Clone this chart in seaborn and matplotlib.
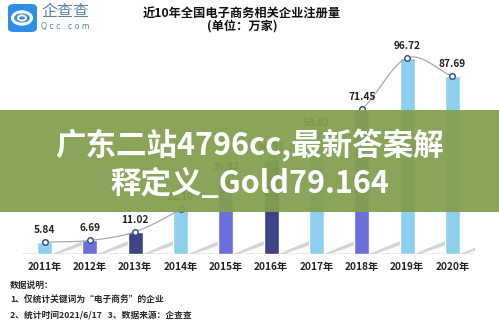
import numpy as np
import pandas as pd
import matplotlib
matplotlib.use("Agg")
import matplotlib.pyplot as plt
from matplotlib.patches import FancyBboxPatch, Rectangle, Polygon, Circle
import seaborn as sns

# data
years = ["2011年", "2012年", "2013年", "2014年", "2015年", "2016年", "2017年", "2018年", "2019年", "2020年"]
registrations = [5.84, 6.69, 11.02, 22.10, 36.82, 46.91, 58.82, 71.45, 96.72, 87.69]
bar_colors = ["#8ed0f0", "#6a6fd9", "#3b4487", "#8ed0f0", "#6a6fd9", "#3b4487",
              "#8ed0f0", "#6a6fd9", "#8ed0f0", "#8ed0f0"]
title_lines = ["近10年全国电子商务相关企业注册量", "(单位：万家)"]
notes = ["数据说明：", "1、仅统计关键词为“电子商务”的企业", "2、统计时间2021/6/17   3、数据来源：企查查"]
banner_lines = ["广东二站4796cc,最新答案解", "释定义_Gold79.164"]

sns.set_theme(style="white")
plt.rcParams["font.family"] = ["Noto Sans CJK SC", "DejaVu Sans"]

W, H = 499, 323
fig = plt.figure(figsize=(W / 100, H / 100), dpi=100)
fig.patch.set_facecolor("white")

def fx(px):
    return px / W

def fy(py):
    return 1 - py / H

ax = fig.add_axes([fx(22), fy(254), 453 / W, 222.9 / H])
df = pd.DataFrame({"year": years, "value": registrations})
sns.barplot(data=df, x="year", y="value", hue="year", palette=bar_colors,
            legend=False, width=0.33, ax=ax, saturation=1)
ax.set_xlim(-0.5, 9.5)
ax.set_ylim(0, 110)
ax.set_xlabel("")
ax.set_ylabel("")
ax.set_yticks([])
for s in ax.spines.values():
    s.set_visible(False)
ax.axhline(0, color="#e6e6e6", lw=1.2, zorder=0)
ax.tick_params(axis="x", length=0, pad=6)
for lab in ax.get_xticklabels():
    lab.set_fontsize(7.3)
    lab.set_fontweight("bold")
    lab.set_color("#222222")

# floor shadows behind each bar
xs = np.arange(len(years))
for x in xs:
    xr = x + 0.165
    ax.add_patch(Polygon([(xr, 0.0), (xr + 0.72, 6.8), (xr + 0.72, 4.6), (xr + 0.12, 0.0)],
                         closed=True, facecolor="#d4d4d4", edgecolor="none", zorder=0.5))

# smooth trend line through the bar tops (Catmull-Rom)
vals = np.array(registrations)
px = np.concatenate([[xs[0] - 1], xs, [xs[-1] + 1]]).astype(float)
py = np.concatenate([[2 * vals[0] - vals[1]], vals, [2 * vals[-1] - vals[-2]]])
cx, cy = [], []
t = np.linspace(0, 1, 30)
for i in range(1, len(px) - 2):
    p0, p1, p2, p3 = py[i - 1], py[i], py[i + 1], py[i + 2]
    q0, q1, q2, q3 = px[i - 1], px[i], px[i + 1], px[i + 2]
    cy.append(0.5 * (2 * p1 + (-p0 + p2) * t + (2 * p0 - 5 * p1 + 4 * p2 - p3) * t**2 + (-p0 + 3 * p1 - 3 * p2 + p3) * t**3))
    cx.append(0.5 * (2 * q1 + (-q0 + q2) * t + (2 * q0 - 5 * q1 + 4 * q2 - q3) * t**2 + (-q0 + 3 * q1 - 3 * q2 + q3) * t**3))
ax.plot(np.concatenate(cx), np.concatenate(cy), color="#a9a9a9", lw=0.9, zorder=3)
sns.scatterplot(x=xs, y=vals, ax=ax, s=16, color="white", edgecolor="#2b4a7a",
                linewidth=1.0, zorder=4, legend=False)
for x, v in zip(xs, vals):
    ax.annotate(f"{v:.2f}", (x, v), xytext=(0, 5), textcoords="offset points",
                ha="center", va="bottom", fontsize=7.3, fontweight="bold", color="#222222")

# title
fig.text(fx(242), fy(13), title_lines[0], ha="center", va="center", fontsize=8.8,
         fontweight="heavy", color="#111111")
fig.text(fx(242), fy(27), title_lines[1], ha="center", va="center", fontsize=8.8,
         fontweight="heavy", color="#111111")

# logo
fig.patches.append(FancyBboxPatch((fx(8), fy(32)), fx(29), 28 / H, boxstyle="round,pad=0,rounding_size=0.012",
                                  transform=fig.transFigure, facecolor="#2f8ee5", edgecolor="none"))
fig.patches.append(Circle((fx(22), fy(18)), 0.019, transform=fig.transFigure,
                          facecolor="none", edgecolor="white", lw=2.2))
fig.patches.append(Circle((fx(22), fy(18)), 0.008, transform=fig.transFigure,
                          facecolor="none", edgecolor="white", lw=1.4))
fig.text(fx(41), fy(11.5), "企查查", ha="left", va="center", fontsize=11.5, color="#5b7fa8")
fig.text(fx(41), fy(26.5), "Q c c . c o m", ha="left", va="center", fontsize=5.6, color="#5b7fa8",
         family=["DejaVu Sans"])

# notes
for i, line in enumerate(notes):
    fig.text(fx(10), fy(285 + 15 * i), line, ha="left", va="center", fontsize=6.3,
             fontweight="bold", color="#2a2a2a")

# overlay banner
fig.patches.append(Rectangle((0, fy(212)), 1, 102 / H, transform=fig.transFigure,
                             facecolor="#83a04f", edgecolor="none", alpha=0.94, zorder=10))
fig.text(0.5, fy(145), banner_lines[0], ha="center", va="center", fontsize=22,
         fontweight="heavy", color="white", zorder=11)
fig.text(0.5, fy(184), banner_lines[1], ha="center", va="center", fontsize=22,
         fontweight="heavy", color="white", zorder=11)

fig.savefig("out.png", dpi=100)
